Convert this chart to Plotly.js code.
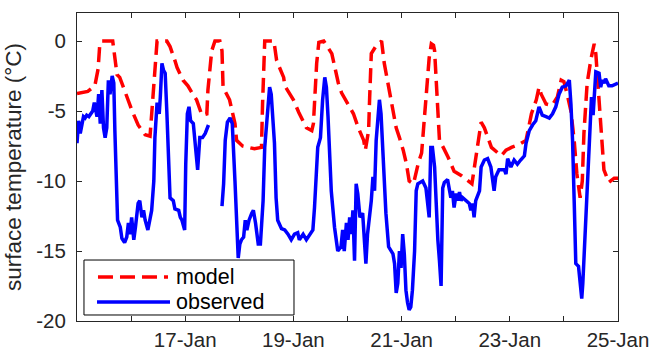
<!DOCTYPE html>
<html>
<head>
<meta charset="utf-8">
<script src="https://cdn.plot.ly/plotly-3.0.1.min.js"></script>
<style>html,body{margin:0;padding:0;background:#fff;}#chart{width:651px;height:351px;}</style>
</head>
<body>
<div id="chart"></div>
<script>
// Day of January 2015 (decimal) and temperatures (°C)
const modelDay = [15.00,15.20,15.33,15.39,15.42,15.46,15.66,15.70,15.74,15.79,15.92,16.02,16.13,16.26,16.35,16.40,16.44,16.48,16.66,16.72,16.81,16.85,16.96,17.05,17.14,17.21,17.31,17.40,17.42,17.49,17.55,17.64,17.68,17.70,17.82,17.92,17.95,18.06,18.28,18.41,18.43,18.47,18.64,18.69,18.82,18.84,19.00,19.10,19.24,19.34,19.37,19.39,19.43,19.47,19.56,19.71,19.76,19.83,19.89,20.02,20.11,20.20,20.30,20.33,20.39,20.41,20.44,20.52,20.63,20.68,20.76,20.81,20.90,20.96,21.03,21.09,21.14,21.22,21.31,21.37,21.40,21.46,21.51,21.55,21.59,21.61,21.64,21.68,21.70,21.77,21.86,21.97,22.10,22.30,22.35,22.42,22.47,22.53,22.62,22.66,22.84,22.93,23.03,23.17,23.30,23.40,23.49,23.54,23.58,23.67,23.78,23.88,23.95,24.00,24.06,24.13,24.19,24.24,24.30,24.34,24.37,24.43,24.50,24.56,24.59,24.65,24.69,24.74,24.83,24.93,25.00];
const modelTemp = [-3.75,-3.6,-3.2,-2.0,-0.3,0,0,-1.5,-2.4,-2.6,-4.0,-5.0,-6.0,-6.7,-6.8,-4.2,-1.4,0,0,-0.4,-1.4,-1.9,-2.8,-3.2,-3.8,-4.2,-5.3,-5.2,-3.5,-0.7,0,0,-0.7,-3.3,-4.2,-5.9,-7.1,-7.5,-7.7,-7.6,-4.5,0,0,-1.4,-2.6,-3.2,-4.2,-5.1,-6.2,-6.4,-5.9,-4.0,-1.6,-0.1,0,-0.9,-1.9,-3.0,-3.7,-4.6,-5.2,-6.2,-7.1,-7.8,-6.4,-4.0,-0.9,-0.4,0,-1.6,-3.3,-4.5,-6.2,-6.9,-7.8,-8.8,-10.0,-10.2,-8.7,-8.0,-6.4,-4.0,-1.2,-0.2,-0.3,-0.7,-2.8,-5.9,-7.1,-7.6,-8.3,-9.3,-9.6,-10.2,-9.0,-7.3,-5.8,-6.2,-7.1,-7.6,-8.2,-7.8,-7.6,-7.4,-7.1,-5.2,-4.2,-3.3,-3.8,-4.5,-4.6,-4.0,-2.8,-2.9,-3.8,-5.0,-7.1,-9.5,-11.2,-10.0,-6.6,-3.0,-1.3,-0.2,-0.9,-4.2,-7.3,-9.2,-10.1,-9.8,-9.8];

const obsDay = [15.00,15.03,15.06,15.09,15.12,15.15,15.18,15.22,15.25,15.29,15.32,15.35,15.37,15.40,15.43,15.46,15.49,15.52,15.55,15.58,15.61,15.65,15.68,15.70,15.72,15.75,15.80,15.83,15.88,15.92,15.95,15.98,16.01,16.05,16.08,16.13,16.16,16.20,16.23,16.26,16.31,16.35,16.38,16.42,16.44,16.48,16.52,16.54,16.57,16.60,16.63,16.66,16.69,16.72,16.78,16.81,16.88,16.91,16.94,16.99,17.01,17.04,17.07,17.10,17.15,17.18,17.23,17.27,17.32,17.37,17.43,17.55,17.68,17.71,17.74,17.78,17.83,17.87,17.92,17.95,17.98,18.01,18.04,18.08,18.11,18.14,18.18,18.23,18.26,18.30,18.35,18.39,18.44,18.47,18.50,18.53,18.56,18.59,18.62,18.65,18.68,18.71,18.78,18.84,18.90,18.96,19.02,19.08,19.11,19.18,19.24,19.30,19.36,19.39,19.42,19.45,19.50,19.54,19.58,19.61,19.64,19.67,19.70,19.76,19.82,19.88,19.91,19.94,19.98,20.01,20.04,20.07,20.10,20.13,20.16,20.19,20.23,20.28,20.31,20.34,20.37,20.41,20.44,20.47,20.50,20.53,20.56,20.59,20.62,20.65,20.68,20.71,20.76,20.81,20.84,20.87,20.90,20.93,20.96,20.99,21.02,21.05,21.08,21.11,21.14,21.17,21.20,21.24,21.27,21.30,21.36,21.39,21.45,21.48,21.51,21.54,21.57,21.61,21.64,21.67,21.70,21.73,21.76,21.79,21.85,21.88,21.91,21.94,21.97,22.01,22.04,22.07,22.10,22.13,22.19,22.25,22.28,22.31,22.34,22.37,22.44,22.47,22.53,22.59,22.65,22.71,22.74,22.80,22.90,22.93,22.96,23.02,23.08,23.14,23.20,23.27,23.30,23.36,23.42,23.48,23.54,23.57,23.60,23.67,23.73,23.79,23.85,23.91,23.97,24.04,24.10,24.13,24.16,24.19,24.22,24.27,24.30,24.33,24.35,24.39,24.42,24.45,24.48,24.51,24.54,24.56,24.59,24.65,24.68,24.71,24.74,24.77,24.83,24.89,25.00];
const obsTemp = [-7.3,-5.7,-6.6,-5.9,-5.4,-5.5,-5.3,-5.4,-5.2,-5.0,-4.4,-5.0,-5.4,-3.8,-5.9,-3.5,-6.2,-6.9,-6.2,-2.8,-3.8,-2.5,-3.0,-6.4,-10.0,-12.8,-13.3,-14.1,-14.4,-14.0,-13.0,-13.8,-12.6,-14.2,-13.3,-11.6,-11.4,-12.6,-12.1,-12.8,-13.5,-12.6,-12.1,-10.0,-6.9,-4.4,-5.2,-4.0,-1.6,-2.1,-2.3,-5.0,-8.8,-11.2,-11.4,-12.0,-12.1,-12.6,-12.8,-13.5,-8.8,-5.2,-4.7,-5.7,-5.9,-7.1,-9.2,-6.9,-6.9,-6.6,-6.0,null,-11.8,-10.2,-7.1,-5.8,-5.5,-5.9,-10.0,-13.5,-15.5,-14.5,-14.2,-14.0,-12.8,-13.5,-12.8,-12.3,-12.1,-13.0,-14.5,-14.5,-11.4,-7.6,-5.9,-4.7,-3.3,-3.8,-5.2,-7.3,-11.2,-12.8,-13.4,-13.5,-13.8,-14.2,-13.8,-13.7,-14.2,-13.8,-14.2,-13.9,-13.5,-11.9,-9.5,-7.6,-6.9,-4.2,-2.6,-3.3,-5.4,-7.6,-10.7,-13.3,-15.0,-14.7,-13.5,-15.0,-13.0,-14.2,-12.6,-13.8,-12.1,-15.7,-10.2,-10.9,-12.6,-12.3,-14.7,-15.9,-13.8,-12.6,-11.4,-9.7,-10.7,-7.1,-5.7,-4.2,-5.2,-7.3,-10.5,-12.3,-14.7,-15.0,-15.2,-15.9,-18.0,-17.3,-15.0,-16.2,-13.8,-15.2,-17.8,-18.7,-19.2,-19.0,-17.8,-15.0,-10.7,-10.2,-10.1,-10.0,-10.5,-11.4,-12.6,-7.6,-7.6,-9.0,-11.9,-14.2,-15.7,-17.5,-10.5,-10.1,-9.9,-10.5,-11.2,-10.7,-11.9,-10.9,-11.4,-10.8,-11.4,-11.2,-11.4,-11.6,-12.1,-11.6,-12.6,-11.4,-10.7,-9.0,-8.5,-8.4,-9.0,-10.7,-9.7,-9.2,-9.2,-9.5,-8.4,-9.0,-8.5,-8.8,-8.5,-8.2,-7.3,-6.4,-6.0,-5.7,-4.7,-5.0,-5.3,-5.4,-5.5,-5.2,-4.7,-3.8,-3.3,-3.2,-2.8,-4.5,-7.1,-11.4,-15.9,-16.1,-17.1,-18.4,-17.3,-13.8,-11.2,-9.0,-6.6,-4.0,-5.3,-4.2,-2.2,-2.3,-3.3,-2.8,-3.0,-2.7,-3.2,-3.2,-3.0];

const tickDays = [16,17,18,19,20,21,22,23,24,25];
const tickLabels = ['','17-Jan','','19-Jan','','21-Jan','','23-Jan','','25-Jan'];
const seriesNames = ['model','observed'];

function stamp(d){
  const ms = Date.UTC(2015,0,1) + (d-1)*86400000;
  return new Date(ms).toISOString().slice(0,19).replace('T',' ');
}

const axisColor = '#262626';
const fontFam = '"Liberation Sans", Arial, Helvetica, sans-serif';
const redLine = {color:'#ff0000', width:3.5, dash:'15px,7px'};
const blueLine = {color:'#0000ff', width:3.5};

const traces = [
  {x: modelDay.map(stamp), y: modelTemp, name: seriesNames[0], type:'scatter', mode:'lines', line:redLine, showlegend:false},
  {x: obsDay.map(stamp), y: obsTemp, name: seriesNames[1], type:'scatter', mode:'lines', line:blueLine, connectgaps:false, showlegend:false}
];

// legend box (paper coordinates), MATLAB style with long line samples
const legendShapes = [
  {type:'rect', xref:'paper', yref:'paper', x0:0.0129, x1:0.4011, y0:0.0195, y1:0.198,
   fillcolor:'#ffffff', line:{color:'#000000', width:1}, layer:'above'},
  {type:'line', xref:'paper', yref:'paper', x0:0.0388, x1:0.1682, y0:0.1429, y1:0.1429, line:redLine, layer:'above'},
  {type:'line', xref:'paper', yref:'paper', x0:0.037, x1:0.1719, y0:0.0617, y1:0.0617, line:blueLine, layer:'above'}
];
const legendTexts = [
  {xref:'paper', yref:'paper', x:0.1793, y:0.1429, xanchor:'left', yanchor:'middle', text:seriesNames[0], showarrow:false,
   font:{size:21.5, color:'#000000', family:fontFam}},
  {xref:'paper', yref:'paper', x:0.1793, y:0.0617, xanchor:'left', yanchor:'middle', text:seriesNames[1], showarrow:false,
   font:{size:21.5, color:'#000000', family:fontFam}}
];

const layout = {
  width:651, height:351,
  margin:{l:77, r:33, t:13, b:30, pad:0},
  paper_bgcolor:'#ffffff', plot_bgcolor:'#ffffff',
  font:{family:fontFam, color:axisColor},
  showlegend:false,
  xaxis:{
    type:'date', range:[stamp(15), stamp(25)],
    tickmode:'array', tickvals: tickDays.map(stamp), ticktext: tickLabels,
    ticks:'inside', ticklen:5, tickwidth:1, tickcolor:axisColor,
    showline:true, linecolor:axisColor, linewidth:1, mirror:'ticks',
    showgrid:false, zeroline:false,
    tickfont:{size:20.5, color:axisColor, family:fontFam},
    ticklabelstandoff:0, automargin:false
  },
  yaxis:{
    range:[-20,2], tickmode:'array', tickvals:[-20,-15,-10,-5,0], ticktext:['-20','-15','-10','-5','0'],
    ticks:'inside', ticklen:5, tickwidth:1, tickcolor:axisColor,
    showline:true, linecolor:axisColor, linewidth:1, mirror:'ticks',
    showgrid:false, zeroline:false,
    tickfont:{size:20.5, color:axisColor, family:fontFam},
    ticklabelstandoff:6, automargin:false,
    title:{text:'surface temperature (°C)', font:{size:22.5, color:axisColor, family:fontFam}, standoff:8}
  },
  shapes: legendShapes,
  annotations: legendTexts
};

Plotly.newPlot('chart', traces, layout, {displayModeBar:false, staticPlot:true});
</script>
</body>
</html>
